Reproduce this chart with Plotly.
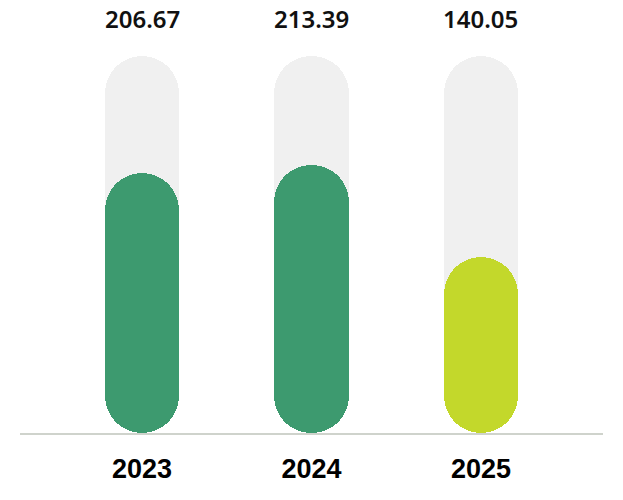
import plotly.graph_objects as go

years = ["2023", "2024", "2025"]
values = [206.67, 213.39, 140.05]
track_max = [300, 300, 300]
bar_colors = ["#3d9a6f", "#3d9a6f", "#c3d82b"]
labels = ["206.67", "213.39", "140.05"]

TRACK = "#f0f0f0"
BAR_W = 0.44


def pill(fig, y_vals, colors):
    # upper part rounded at top, lower part rounded at bottom; overlapped so no seam
    upper_base = [v * 0.3 for v in y_vals]
    lower_base = [v * 0.7 for v in y_vals]
    fig.add_trace(go.Bar(
        x=years, y=[v - b for v, b in zip(y_vals, upper_base)], base=upper_base,
        width=BAR_W, marker=dict(color=colors, cornerradius="50%", line_width=0),
        hoverinfo="skip", showlegend=False))
    fig.add_trace(go.Bar(
        x=years, y=[-b for b in lower_base], base=lower_base,
        width=BAR_W, marker=dict(color=colors, cornerradius="50%", line_width=0),
        hoverinfo="skip", showlegend=False))


fig = go.Figure()
pill(fig, track_max, [TRACK] * 3)
pill(fig, values, bar_colors)

# category axis: annotate by index, "2023" would be read as a position
for i, txt in enumerate(labels):
    fig.add_annotation(x=i, y=330, text=txt, showarrow=False,
                       font=dict(family="Noto Sans", size=24, color="#111111", weight=600),
                       yanchor="middle")

fig.update_layout(
    width=623, height=500,
    margin=dict(l=20, r=20, t=0, b=67),
    barmode="overlay",
    plot_bgcolor="white", paper_bgcolor="white",
    bargap=0,
)
fig.update_xaxes(
    type="category", range=[-0.72, 2.72],
    showgrid=False, zeroline=False,
    showline=True, linecolor="#cfd3cc", linewidth=2,
    ticks="", ticklabelstandoff=11,
    tickfont=dict(family="Liberation Sans", size=27, color="#000000", weight="bold"),
)
fig.update_yaxes(range=[0, 344.5], visible=False, showgrid=False, zeroline=False)

fig.write_html("out.html", config={"displayModeBar": False},
               post_script="document.body.style.margin='0';")
